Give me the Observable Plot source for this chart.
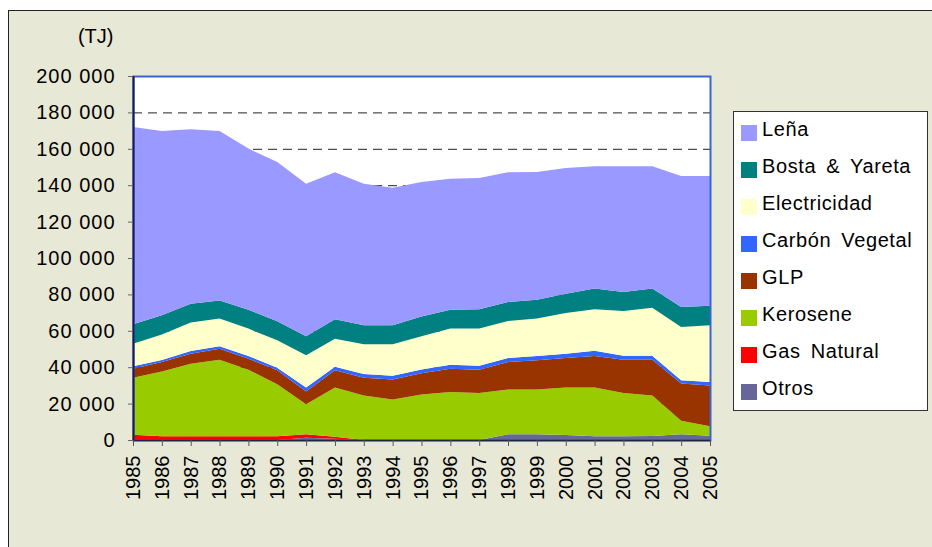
<!DOCTYPE html>
<html><head><meta charset="utf-8">
<script src="https://cdn.jsdelivr.net/npm/d3@7"></script>
<script src="https://cdn.jsdelivr.net/npm/@observablehq/plot@0.6"></script>
<style>
html,body{margin:0;padding:0;background:#fff;width:932px;height:547px;overflow:hidden;font-family:"Liberation Sans",Arial,sans-serif;}
#panel{position:absolute;left:8px;top:10px;width:940px;height:560px;background:#E8E8D6;border-left:1.5px solid #222;border-top:1.5px solid #222;}
#chart{position:absolute;left:0;top:0;}
#chart svg{background:transparent;}
g[aria-label="y-axis tick label"] text{letter-spacing:1px;}
#legend{position:absolute;left:733px;top:111px;width:193px;height:298px;background:#fff;border:1.5px solid #333;}
.sw{position:absolute;left:7px;width:16px;height:16px;}
.lt{position:absolute;left:28px;font-size:20px;letter-spacing:0.6px;word-spacing:4px;color:#000;white-space:nowrap;line-height:20px;}
</style></head>
<body>
<div id="panel"></div>
<div id="chart"></div>
<div id="legend"></div>
<script>
const years = [1985,1986,1987,1988,1989,1990,1991,1992,1993,1994,1995,1996,1997,1998,1999,2000,2001,2002,2003,2004,2005];
// TJ, stacking order bottom -> top
const otros      = [0,0,0,0,0,0,1200,700,0,0,0,0,0,3100,3100,2700,2000,2000,2200,3100,2400];
const gasNatural = [2900,2100,2100,2100,2100,2100,1900,1100,0,0,0,0,0,0,0,0,0,0,0,0,0];
const kerosene   = [31300,35600,39800,42000,36500,28500,16500,27000,24500,22300,25000,26400,25800,24700,24700,26100,26800,23800,22300,7500,5200];
const glp        = [5000,5200,5500,6100,6100,7700,7100,9500,9700,10900,11700,12800,12800,15100,16000,16300,17400,18300,19600,20400,22400];
const carbon     = [1300,1100,1500,1300,1500,1400,2200,2000,2000,2100,2000,2200,2200,2200,2300,2300,2800,2200,2200,1800,1900];
const electric   = [12400,13900,15600,15200,15000,15100,17600,15400,16400,17300,18300,19800,20400,20300,20600,22400,22800,24600,26400,29300,31100];
const bosta      = [10700,10600,10400,10000,10400,10400,10500,10600,10400,10400,10800,10400,10600,10400,10400,10600,11400,10400,10500,11000,10800];
const lena       = [108400,101300,95800,93100,88500,87500,83800,80800,77800,75600,73900,72000,72200,71300,70200,69100,67200,69100,67200,72000,71300];

const seriesNames = ["Otros","Gas Natural","Kerosene","GLP","Carbón Vegetal","Electricidad","Bosta & Yareta","Leña"];
const seriesValues = [otros,gasNatural,kerosene,glp,carbon,electric,bosta,lena];
const seriesColors = ["#666699","#FF0000","#99CC00","#993300","#3366FF","#FFFFCC","#008080","#9999FF"];
const yTicks = [0,20000,40000,60000,80000,100000,120000,140000,160000,180000,200000];
const gridTicks = [20000,40000,60000,80000,100000,120000,140000,160000,180000];
const unitLabel = "(TJ)";

const data = [];
seriesNames.forEach((s,i)=>years.forEach((y,j)=>data.push({year:y, series:s, value:seriesValues[i][j]})));

const fmt = v => d3.format(",")(v).replace(/,/g," ");

const chart = Plot.plot({
  width: 932, height: 547,
  marginLeft: 133, marginRight: 222, marginTop: 76, marginBottom: 107,
  style: {fontFamily: '"Liberation Sans", Arial, sans-serif', fontSize: "20px", color: "#000", background: "transparent", overflow: "visible"},
  x: {type: "linear", domain: [years[0], years[years.length-1]]},
  y: {domain: [0, 200000]},
  color: {domain: seriesNames, range: seriesColors},
  marks: [
    Plot.rect([0], {x1: years[0], x2: years[years.length-1], y1: 0, y2: 200000, fill: "#fff"}),
    Plot.ruleY(gridTicks, {stroke: "#222", strokeDasharray: "9,6", strokeWidth: 1}),
    Plot.areaY(data, {x: "year", y: "value", z: "series", fill: "series", order: null, curve: "linear"}),
    Plot.frame({stroke: "#3A66CC", strokeWidth: 2}),
    Plot.ruleX([years[0]], {stroke: "#1a1a55", strokeWidth: 2}),
    Plot.ruleY([0], {stroke: "#222244", strokeWidth: 1.5}),
    Plot.axisY({ticks: yTicks, tickFormat: fmt, tickSize: 5, tickPadding: 13, stroke: "#666", label: null, fill: "#000"}),
    Plot.axisX({ticks: years, tickFormat: d => String(d), tickRotate: -90, tickSize: 6, tickPadding: 9, stroke: "#555", label: null, fill: "#000"}),
    Plot.text([unitLabel], {frameAnchor: "top-left", text: d => d, dx: -20, dy: -48, textAnchor: "end", fontSize: 20, fill: "#000"})
  ]
});
document.getElementById("chart").appendChild(chart);

// legend (top to bottom: reverse stacking order)
const legend = d3.select("#legend");
const legendOrder = seriesNames.slice().reverse();
const legendColors = seriesColors.slice().reverse();
legendOrder.forEach((name, i) => {
  const cy = 20.5 + i * 37.1;
  legend.append("div").attr("class","sw").style("top", (cy - 8) + "px").style("background", legendColors[i]);
  legend.append("div").attr("class","lt").style("top", (cy - 14) + "px").text(name);
});
</script>
</body></html>
